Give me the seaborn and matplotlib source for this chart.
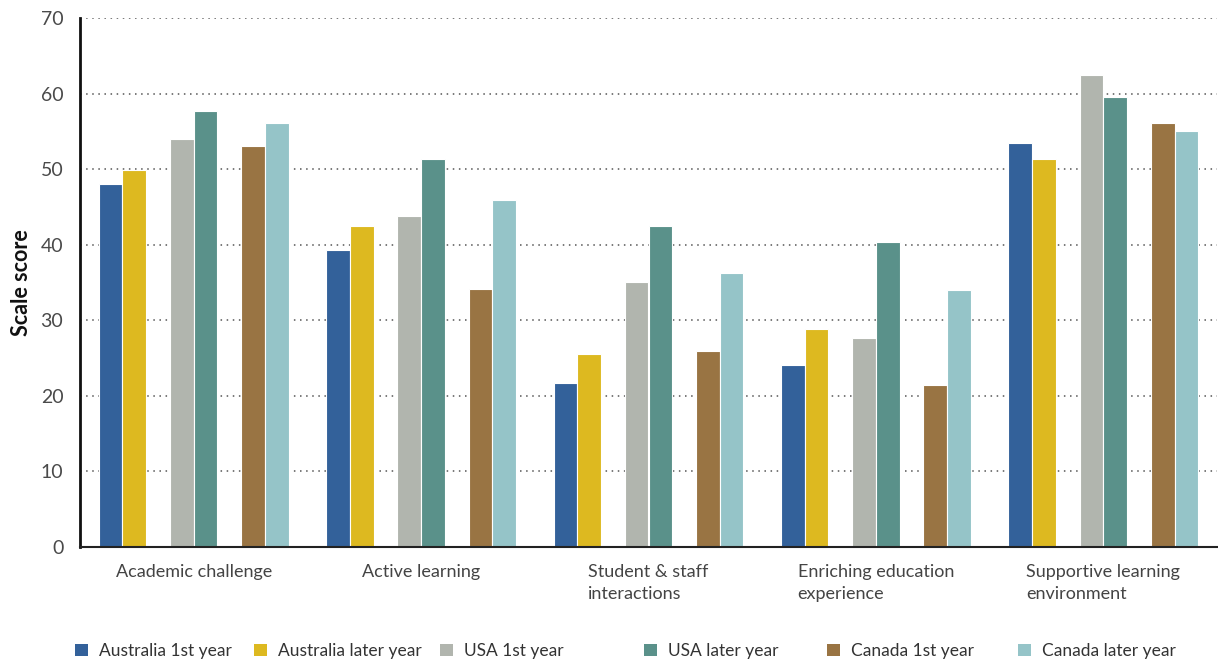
import matplotlib
matplotlib.use("Agg")
import matplotlib.pyplot as plt
import seaborn as sns
import pandas as pd
from matplotlib.patches import Patch

categories = ["Academic challenge", "Active learning", "Student & staff\ninteractions",
              "Enriching education\nexperience", "Supportive learning\nenvironment"]
series = ["Australia 1st year", "Australia later year", "USA 1st year",
          "USA later year", "Canada 1st year", "Canada later year"]
aus_first = [48.0, 39.3, 21.7, 24.1, 53.5]
aus_later = [49.9, 42.5, 25.6, 28.8, 51.4]
usa_first = [54.0, 43.8, 35.1, 27.7, 62.4]
usa_later = [57.7, 51.4, 42.5, 40.4, 59.5]
can_first = [53.0, 34.1, 25.9, 21.4, 56.1]
can_later = [56.1, 45.9, 36.2, 34.0, 55.0]
yticks = [0, 10, 20, 30, 40, 50, 60, 70]
colors = ["#33619A", "#DDB920", "#B1B5AE", "#5A918A", "#997443", "#95C4C8"]

values = [aus_first, aus_later, usa_first, usa_later, can_first, can_later]
rows = []
for s, vals in zip(series, values):
    for c, v in zip(categories, vals):
        rows.append({"category": c, "series": s, "score": v})
df = pd.DataFrame(rows)

hue_order = [series[0], series[1], "_gap1", series[2], series[3], "_gap2", series[4], series[5]]
palette = {s: col for s, col in zip(series, colors)}
palette["_gap1"] = "white"
palette["_gap2"] = "white"

sns.set_style("white")
plt.rcParams["font.family"] = ["Lato", "DejaVu Sans"]

fig = plt.figure(figsize=(12.18, 6.62), dpi=100)
ax = fig.add_axes([80/1218, 115/662, 1137/1218, 529/662])

sns.barplot(data=df, x="category", y="score", hue="series", hue_order=hue_order,
            order=categories, palette=palette, width=0.835, edgecolor="white",
            linewidth=0.8, saturation=1, ax=ax, legend=False, zorder=2)

ax.set_xlim(-0.5, 4.5)
ax.set_ylim(0, 70)
ax.set_yticks(yticks)
ax.set_yticklabels([str(t) for t in yticks], fontsize=14, color="#4a4a4a")
ax.yaxis.grid(True, linestyle=(0, (1, 3)), color="#555555", linewidth=1.1, zorder=0)
ax.xaxis.grid(False)
ax.set_axisbelow(True)

ax.set_xticks(range(len(categories)))
ax.set_xticklabels(categories, fontsize=13, color="#444444", ha="center",
                   multialignment="left", va="top", linespacing=1.45)
ax.set_xticks([i - 0.5 for i in range(len(categories) + 1)], minor=True)
ax.tick_params(axis="x", which="major", length=0, pad=12)
ax.tick_params(axis="x", which="minor", length=8, width=1.5, color="#222222", direction="out")
ax.tick_params(axis="y", which="major", length=8, width=1.8, color="#444444", pad=4)

for side in ["top", "right"]:
    ax.spines[side].set_visible(False)
ax.spines["left"].set_linewidth(2)
ax.spines["left"].set_color("#111111")
ax.spines["bottom"].set_linewidth(1.5)
ax.spines["bottom"].set_color("#222222")

ax.set_xlabel("")
ax.set_ylabel("Scale score", fontsize=15.5, fontweight="bold", color="#111111", labelpad=6)

legend_x = [72, 251, 437, 641, 824, 1015]
for c, s, lx in zip(colors, series, legend_x):
    leg = fig.legend([Patch(facecolor=c, edgecolor="none")], [s], loc="center left",
                     bbox_to_anchor=(lx/1218, 1 - 651/662), frameon=False, fontsize=12.5,
                     handlelength=0.75, handleheight=0.75, handletextpad=0.6,
                     labelcolor="#333333", borderpad=0.2, borderaxespad=0)

fig.savefig("out.png", dpi=100)
